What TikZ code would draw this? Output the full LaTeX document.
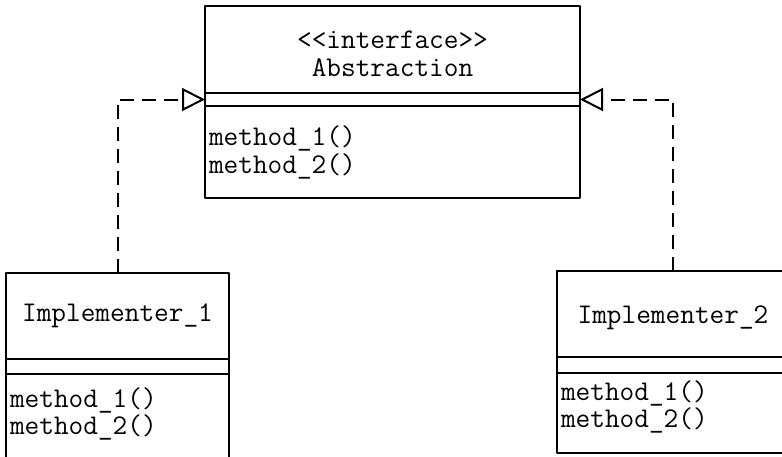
\documentclass[tikz,border=0pt]{standalone}
\usetikzlibrary{arrows.meta}
\begin{document}
\begin{tikzpicture}[x=1pt,y=-1pt,line join=round,line width=2pt,font=\ttfamily\fontsize{28.5}{28}\selectfont]
	\tikzset{part/.style={draw,rectangle,inner sep=0pt,outer sep=0pt,anchor=north west},
		method/.style={anchor=base west,inner sep=0pt},
		realize/.style={dash pattern=on 14pt off 8pt,-{Triangle[open,length=23pt,width=23pt]}}}
	\useasboundingbox (0,0) rectangle (782,456);
	% Abstraction
	\node[part,minimum width=375pt,minimum height=87pt] (abs) at (205,6) {};
	\node[part,minimum width=375pt,minimum height=13pt] (absattr) at (abs.south west) {};
	\node[part,minimum width=375pt,minimum height=92pt] (absops) at (absattr.south west) {};
	\node (absstereo) at (392.5,40) {<{}<interface>{}>};
	\node (absname) at (392.5,68) {Abstraction};
	\foreach \i/\y in {1/145,2/173}
	\node[method] (absm\i) at (208,\y) {method\_\i()};
	% Implementer_1
	\node[part,minimum width=223pt,minimum height=86pt] (imp) at (6,273) {};
	\node[part,minimum width=223pt,minimum height=15pt] (impattr) at (imp.south west) {};
	\node[part,minimum width=223pt,minimum height=90pt] (impops) at (impattr.south west) {};
	\node (impname) at (imp.center) {Implementer\_1};
	\foreach \i/\y in {1/407,2/434}
	\node[method] (impm\i) at (9,\y) {method\_\i()};
	% Implementer_2
	\node[part,minimum width=232pt,minimum height=86pt] (impb) at (557,271) {};
	\node[part,minimum width=232pt,minimum height=16pt] (impbattr) at (impb.south west) {};
	\node[part,minimum width=232pt,minimum height=80pt] (impbops) at (impbattr.south west) {};
	\node (impbname) at (673,318) {Implementer\_2};
	\foreach \i/\y in {1/400,2/427}
	\node[method] (impbm\i) at (560,\y) {method\_\i()};
	% realizations
	\draw[realize] (imp.north) |- (absattr.west);
	\draw[realize] (impb.north) |- (absattr.east);
\end{tikzpicture}
\end{document}
